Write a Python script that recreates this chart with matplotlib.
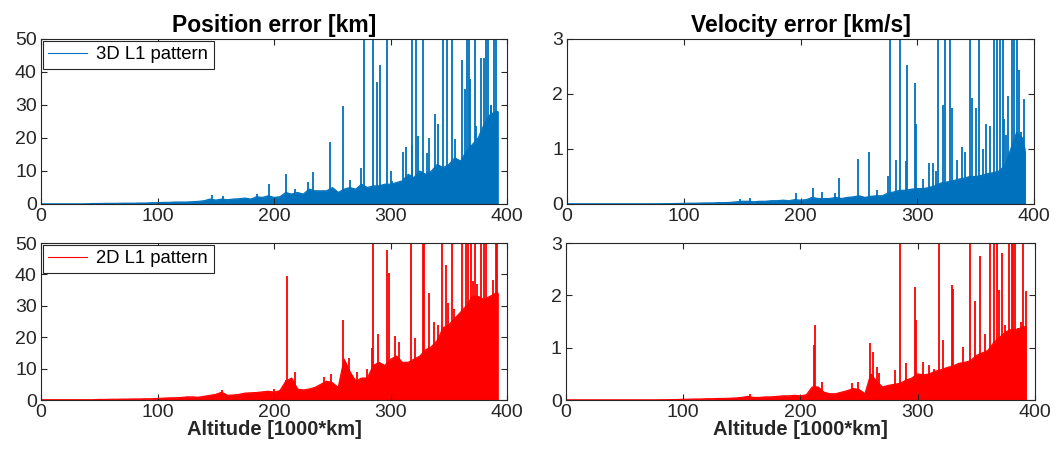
import matplotlib
matplotlib.use("Agg")
import matplotlib.pyplot as plt

plt.rcParams['font.family'] = ['Liberation Sans', 'DejaVu Sans']

BLUE = '#0072BD'
RED = '#FF0000'
GRAY = '#262626'

# altitude grid of the dense lower band (1000 km), 0..390 by 5, then 392
band_alt = list(range(0, 391, 5)) + [392]

# --- 3D L1 pattern, position error [km]
pos3d_band = [0.05, 0.05, 0.05, 0.05, 0.05, 0.05, 0.05, 0.05, 0.08, 0.15, 0.15, 0.2, 0.2, 0.2, 0.25, 0.25, 0.25, 0.3, 0.3, 0.4,
              0.4, 0.5, 0.5, 0.6, 0.6, 0.6, 0.7, 0.8, 1.0, 1.5, 1.2, 1.5, 1.3, 1.5, 1.6, 1.8, 1.5, 2.2, 2.0, 2.5,
              2.0, 2.2, 3.5, 3.0, 3.5, 3.0, 4.5, 4.0, 4.0, 4.0, 5.0, 3.5, 4.5, 5.0, 4.5, 6.0, 5.0, 5.5, 5.5, 6.0,
              6.0, 6.5, 7.0, 9.0, 8.0, 10, 9.0, 10, 12, 11, 12, 14, 13, 16, 18, 20, 24, 27, 28, 28]
pos3d_spike_alt = [147, 156, 185.5, 196, 210.5, 218, 229, 233, 248, 259, 265, 274.6, 277.5, 285, 288.6,
                   291, 297, 301, 310.7, 313.5, 318.7, 321.5, 323.5, 328, 331, 338, 341, 345, 348,
                   352.7, 354.8, 360.8, 363.6, 365.6, 367, 368.5, 372.2, 377.4, 379.7, 381.7, 383.7,
                   385.7, 388.5, 390.3, 391.4, 300, 318, 333, 373, 386]
pos3d_spike_h = [2.6, 2.5, 3.1, 6.2, 9.1, 4.6, 6.7, 9.8, 18.7, 29.8, 7.2, 10.9, 50, 50, 36.9, 42, 50,
                 6.9, 15.7, 17.3, 50, 50, 20.5, 50, 15.5, 27.4, 24.2, 50, 50, 50, 19.7, 43.7, 34.8, 50,
                 50, 38, 50, 44.2, 44.2, 50, 50, 30, 50, 50, 27.5, 10, 17.5, 20, 23.6, 29.6]

# --- 3D L1 pattern, velocity error [km/s]
vel3d_band = [0.004, 0.004, 0.004, 0.004, 0.004, 0.004, 0.004, 0.004, 0.004, 0.004, 0.004, 0.004, 0.004, 0.004, 0.004, 0.004, 0.005, 0.006, 0.008, 0.01,
              0.012, 0.015, 0.015, 0.018, 0.02, 0.02, 0.025, 0.025, 0.03, 0.04, 0.05, 0.05, 0.04, 0.05, 0.05, 0.06, 0.06, 0.07, 0.06, 0.08,
              0.07, 0.08, 0.12, 0.1, 0.1, 0.1, 0.12, 0.1, 0.12, 0.13, 0.15, 0.12, 0.14, 0.15, 0.15, 0.2, 0.22, 0.25, 0.25, 0.27,
              0.28, 0.28, 0.3, 0.33, 0.38, 0.4, 0.42, 0.45, 0.47, 0.5, 0.5, 0.52, 0.55, 0.57, 0.6, 0.7, 1.0, 1.3, 1.2, 1.0]
vel3d_spike_alt = [148, 157, 196, 211, 218, 229.5, 233, 249, 259, 265.5, 274.6, 277, 281.8, 285.5, 290,
                   291, 297.8, 299, 310, 313.8, 318, 322, 323.5, 328, 329.5, 338, 341, 345, 347, 350,
                   353, 359, 362, 365.7, 368, 371, 373, 374.6, 378, 381, 383, 385.7, 387, 389, 391,
                   392.5, 305, 316, 334, 356, 376]
vel3d_spike_h = [0.09, 0.11, 0.2, 0.29, 0.22, 0.2, 0.47, 0.81, 0.95, 0.26, 0.5, 3, 0.8, 3, 0.78, 2.52,
                 2.2, 1.45, 0.75, 0.75, 3, 1.8, 3, 3, 1.75, 1.04, 0.94, 3, 1.93, 1.75, 3, 1.45, 1.42, 3,
                 3, 3, 3, 1.55, 1.96, 3, 3, 3, 2.44, 1.3, 1.9, 0.97, 0.45, 0.6, 0.8, 1.0, 1.25]

# --- 2D L1 pattern, position error [km]
pos2d_band = [0.1, 0.1, 0.1, 0.1, 0.1, 0.1, 0.1, 0.1, 0.1, 0.1, 0.2, 0.2, 0.25, 0.25, 0.3, 0.3, 0.35, 0.35, 0.4, 0.4,
              0.5, 0.6, 0.7, 0.7, 0.8, 1.0, 1.0, 0.9, 1.2, 1.5, 1.8, 2.5, 1.5, 1.6, 1.8, 2.2, 2.3, 2.4, 2.6, 2.8,
              2.5, 3.0, 6.0, 7.0, 3.5, 3.2, 3.5, 4.0, 5.0, 6.0, 5.5, 4.0, 13, 9.0, 6.0, 7.0, 7.0, 11, 12, 11,
              13, 14, 12, 12, 13, 14, 16, 17, 19, 23, 24, 26, 28, 30, 33, 33, 32, 33, 34, 34]
pos2d_spike_alt = [155.4, 200, 211.3, 210.5, 217.6, 243, 248.6, 259.5, 264.4, 271.5, 280, 283.6, 285,
                   289, 297.3, 298.8, 304, 307.4, 310, 317.4, 321, 327.5, 329, 333, 337, 340.4, 343.8,
                   347.5, 349, 352.4, 354.7, 361.3, 363, 364.7, 366, 369, 370.5, 372, 374, 377.6,
                   380.5, 382, 384.8, 387.7, 390.5, 391.4]
pos2d_spike_h = [3.2, 3.5, 39.6, 6.4, 9, 7.2, 8.3, 25.5, 13.3, 9, 9.9, 16.5, 50, 21, 47.9, 40.4, 20.5,
                 18.6, 12.2, 50, 19.9, 50, 50, 34, 25, 24, 50, 43, 31, 50, 29, 50, 28, 50, 50, 50, 37.8,
                 50, 37, 50, 50, 50, 31, 38.3, 50, 50]

# --- 2D L1 pattern, velocity error [km/s]
vel2d_band = [0.004, 0.004, 0.004, 0.004, 0.004, 0.004, 0.004, 0.004, 0.004, 0.004, 0.004, 0.004, 0.004, 0.004, 0.004, 0.004, 0.005, 0.006, 0.008, 0.01,
              0.015, 0.015, 0.02, 0.02, 0.025, 0.025, 0.03, 0.03, 0.035, 0.04, 0.05, 0.07, 0.05, 0.05, 0.06, 0.06, 0.07, 0.08, 0.08, 0.09,
              0.08, 0.1, 0.25, 0.25, 0.15, 0.12, 0.12, 0.15, 0.18, 0.22, 0.2, 0.12, 0.5, 0.35, 0.25, 0.28, 0.3, 0.32, 0.38, 0.42,
              0.5, 0.48, 0.5, 0.55, 0.58, 0.62, 0.65, 0.7, 0.72, 0.75, 0.85, 0.9, 0.95, 1.1, 1.2, 1.3, 1.35, 1.35, 1.4, 1.4]
vel2d_spike_alt = [157, 212.4, 211.8, 218.6, 243.6, 248.8, 259.6, 262, 265, 267, 280.6, 284.9, 290,
                   297.7, 299, 304.8, 309.3, 314, 318.4, 321.8, 329, 330.4, 338.9, 345, 349, 353,
                   357.4, 361.6, 365.3, 368, 369.3, 371.9, 374.4, 378, 380.4, 381.5, 383, 385.8, 388,
                   390, 392]
vel2d_spike_h = [0.11, 1.44, 1.05, 0.35, 0.32, 0.35, 1.09, 0.92, 0.64, 0.51, 0.57, 3, 0.7, 2.16, 1.53,
                 0.73, 0.67, 0.6, 3, 1.14, 2.19, 2.13, 1.02, 3, 1.89, 2.75, 1.27, 3, 3, 3, 2.1, 2.81,
                 1.43, 3, 3, 3, 3, 1.37, 1.49, 3, 2.08]

x_ticks = [0, 100, 200, 300, 400]


def draw(ax, band, spike_alt, spike_h, color, ymax, yticks, label=None):
    ax.fill_between(band_alt, 0, band, color=color, linewidth=0.6, edgecolor=color)
    ax.vlines(spike_alt, 0, spike_h, color=color, linewidth=1.3)
    ax.plot(band_alt, band, color=color, linewidth=0.8, label=label)
    ax.set_xlim(0, 400)
    ax.set_ylim(0, ymax)
    ax.set_xticks(x_ticks)
    ax.set_yticks(yticks)
    ax.tick_params(direction='in', top=True, right=True, length=4, width=0.8,
                   labelsize=14, colors=GRAY, pad=3)
    for s in ax.spines.values():
        s.set_color(GRAY)
        s.set_linewidth(0.8)
    if label:
        leg = ax.legend(loc='upper left', fontsize=13.3, fancybox=False, framealpha=1,
                        edgecolor=GRAY, borderaxespad=0.1, handlelength=2.1,
                        borderpad=0.3, handletextpad=0.5)
        leg.get_frame().set_linewidth(0.8)


fig = plt.figure(figsize=(10.56, 4.5), dpi=100)
ax1 = fig.add_axes([0.0388, 0.5467, 0.4415, 0.3667])
ax2 = fig.add_axes([0.537, 0.5467, 0.4422, 0.3667])
ax3 = fig.add_axes([0.0388, 0.1111, 0.4415, 0.3489])
ax4 = fig.add_axes([0.536, 0.1111, 0.444, 0.3489])

draw(ax1, pos3d_band, pos3d_spike_alt, pos3d_spike_h, BLUE, 50, [0, 10, 20, 30, 40, 50], '3D L1 pattern')
draw(ax2, vel3d_band, vel3d_spike_alt, vel3d_spike_h, BLUE, 3, [0, 1, 2, 3])
draw(ax3, pos2d_band, pos2d_spike_alt, pos2d_spike_h, RED, 50, [0, 10, 20, 30, 40, 50], '2D L1 pattern')
draw(ax4, vel2d_band, vel2d_spike_alt, vel2d_spike_h, RED, 3, [0, 1, 2, 3])

ax1.set_title('Position error [km]', fontsize=16.5, fontweight='bold', pad=5)
ax2.set_title('Velocity error [km/s]', fontsize=16.5, fontweight='bold', pad=5)
ax3.set_xlabel('Altitude [1000*km]', fontsize=14.5, fontweight='bold', labelpad=-1, color=GRAY)
ax4.set_xlabel('Altitude [1000*km]', fontsize=14.5, fontweight='bold', labelpad=-1, color=GRAY)

fig.savefig('out.png', dpi=100)
